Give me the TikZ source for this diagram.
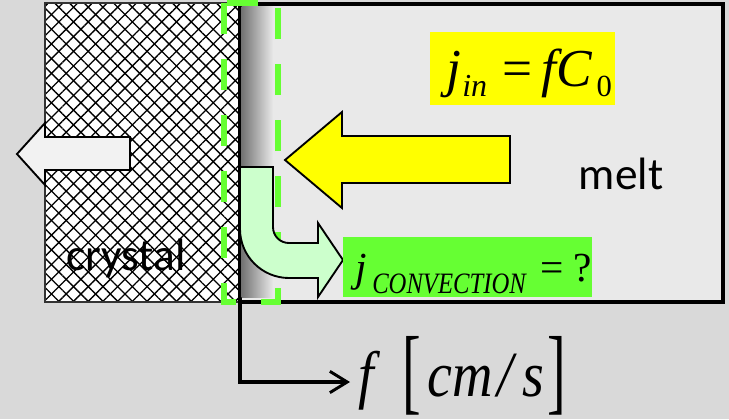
\documentclass[tikz,border=0pt]{standalone}
\usepackage{fontspec}
\setmainfont{Carlito}
\newfontfamily\tnr{Liberation Serif}
\usetikzlibrary{arrows.meta,patterns.meta}
\definecolor{bg}{HTML}{D9D9D9}
\definecolor{meltc}{HTML}{E9E9E9}
\definecolor{lgreen}{HTML}{CCFFCC}
\definecolor{vgreen}{HTML}{66FF33}
\definecolor{yel}{HTML}{FFFF00}
\definecolor{arrw}{HTML}{F2F2F2}
\tikzset{
  blockarrow/.style={draw=black, line width=1.4pt, line join=miter},
  lbl/.style={inner sep=0pt},
}
\newcommand{\pc}[2]{\makebox[#1][l]{#2}}
\begin{document}
\begin{tikzpicture}[x=0.75pt,y=-0.75pt]
\fill[bg] (0,0) rectangle (729,419);
\useasboundingbox (0,0) rectangle (729,419);
% crystal
\fill[white] (45,3) rectangle (240,302);
\fill[pattern={Lines[angle=45,distance=7.8pt,line width=1pt]}] (45,3) rectangle (240,302);
\fill[pattern={Lines[angle=-45,distance=7.8pt,line width=1pt]}] (45,3) rectangle (240,302);
\draw[black!80, line width=1.4pt] (45,3) rectangle (240,302);
% growth arrow
\draw[blockarrow, fill=arrw] (130,137) -- (45,137) -- (45,123) -- (17,154) -- (45,185) -- (45,170) -- (130,170) -- cycle;
% melt
\draw[fill=meltc, line width=2.4pt] (240,4) rectangle (723,302);
\shade[left color=black!55, right color=meltc] (241.5,6) rectangle (273,297);
% boundary layer
\draw[vgreen, line width=4.8pt, dash pattern=on 23pt off 19pt] (224,3) rectangle (278,302);
% incoming flux arrow
\draw[blockarrow, fill=yel] (510,136) -- (342,136) -- (342,112) -- (285,160) -- (342,208) -- (342,183) -- (510,183) -- cycle;
% convection arrow
\draw[blockarrow, fill=lgreen] (240,167) -- (273,167) -- (273,227) .. controls (273,236) and (280,243) .. (289,243) -- (318,243) -- (318,223) -- (343,260) -- (318,297) -- (318,278) -- (289,278) .. controls (262,278) and (240,256) .. (240,229) -- cycle;
% labels
\fill[yel] (430,32) rectangle (615,105);
\node[lbl, anchor=base west] (jin) at (446,86) {\tnr\fontsize{40}{42}\selectfont\itshape
  \pc{12pt}{j}\pc{30pt}{\raisebox{-7.5pt}{\fontsize{24}{26}\selectfont in}}\pc{29.25pt}{\upshape =}\pc{11.5pt}{f}\pc{30pt}{C}\raisebox{-7.5pt}{\upshape\fontsize{23}{25}\selectfont 0}};
\fill[vgreen] (343,237) rectangle (592,297);
\node[lbl, anchor=base west] (jconv) at (355,281) {\tnr\fontsize{31}{33}\selectfont\itshape
  \pc{12.75pt}{j}\pc{126pt}{\raisebox{-9pt}{\scalebox{1}[1.2]{\fontsize{18.5}{20}\selectfont CONVECTION}}}\pc{24.75pt}{\upshape =}{\upshape ?}};
\node[lbl, anchor=base] (melt) at (621,189) {\fontsize{34}{36}\selectfont melt};
\node[lbl, anchor=base] (crystal) at (126,270) {\fontsize{34}{36}\selectfont crystal};
% velocity axis
\coordinate (axstart) at (240,302);
\coordinate (axend) at (350,382);
\draw[line width=2.4pt, -{Straight Barb[length=13pt,width=16pt,line width=2.2pt]}] (axstart) |- (axend);
\node[lbl, anchor=base west] (fcms) at (358,396) {\tnr\fontsize{42}{44}\selectfont\itshape
  \pc{33pt}{\scalebox{1}[1.15]{f}}\pc{18.75pt}{\raisebox{-4.5pt}{\upshape\scalebox{1}[1.7]{[}}}\pc{52.5pt}{\scalebox{1}[1.15]{cm}}\pc{18.75pt}{\scalebox{1}[1.15]{/}}\pc{18.75pt}{\scalebox{1}[1.15]{s}}\raisebox{-4.5pt}{\upshape\scalebox{1}[1.7]{]}}};
\end{tikzpicture}
\end{document}
